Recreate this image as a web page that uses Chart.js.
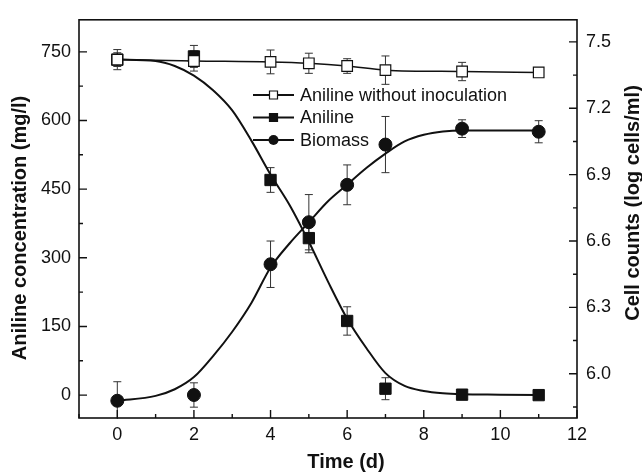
<!DOCTYPE html>
<html>
<head>
<meta charset="utf-8">
<script src="https://cdn.jsdelivr.net/npm/chart.js@4"></script>
<style>
  html, body { margin: 0; padding: 0; background: #fff; }
  #wrap { width: 642px; height: 473px; }
</style>
</head>
<body>
<div id="wrap"><canvas id="chart" width="642" height="473"></canvas></div>
<script>
// sampling days and measured values
const DAYS = [0, 2, 4, 5, 6, 7, 9, 11];
const CONTROL = [733, 730, 728, 725, 719, 710, 707, 705];
const CONTROL_ERR = [22, 22, 26, 22, 16, 31, 20, 4];
const ANILINE = [733, 740, 470, 343, 162, 14, 1, 0];
const ANILINE_ERR = [15, 24, 27, 32, 31, 24, 5, 4];
const BIOMASS = [5.878, 5.904, 6.495, 6.685, 6.854, 7.036, 7.108, 7.094];
const BIOMASS_ERR = [0.086, 0.055, 0.105, 0.125, 0.09, 0.127, 0.04, 0.05];

// fitted curves
const FIT_X = [0, 1, 1.5, 2, 2.5, 3, 3.5, 4, 4.5, 5, 5.5, 6, 6.5, 7, 7.5, 8, 8.5, 9, 10, 11];
const ANILINE_FIT = [733, 730, 719, 698, 666, 622, 556, 482, 415, 335, 248, 167, 103, 48, 20, 9, 4, 2, 1, 0];
const BIOMASS_FIT = [5.878, 5.9, 5.93, 5.985, 6.08, 6.19, 6.32, 6.48, 6.59, 6.685, 6.78, 6.855, 6.93, 6.995, 7.05, 7.08, 7.095, 7.1, 7.1, 7.1];

const X_TICKS = [0, 2, 4, 6, 8, 10, 12];
const LEFT_TICKS = [0, 150, 300, 450, 600, 750];
const RIGHT_TICKS = [6.0, 6.3, 6.6, 6.9, 7.2, 7.5];
const SERIES = ['Aniline without inoculation', 'Aniline', 'Biomass'];

const INK = '#111';
const FONT = '"Liberation Sans", Arial, sans-serif';

function pts(xs, ys) {
    return xs.map((x, i) => ({x: x, y: ys[i]}));
}

function fixTicks(list) {
    return s => { s.ticks = list.map(v => ({value: v})); };
}

function minors(list, min, max) {
    let step = list[1] - list[0];
    let out = [];
    for (let i = 0; i < list.length - 1; i++) out.push((list[i] + list[i + 1]) / 2);
    if (list[0] - step / 2 >= min) out.push(list[0] - step / 2);
    if (list[list.length - 1] + step / 2 <= max) out.push(list[list.length - 1] + step / 2);
    return out;
}

function drawMarker(ctx, kind, x, y, r) {
    ctx.beginPath();
    if (kind === 'circle') {
        ctx.arc(x, y, r, 0, Math.PI * 2);
        ctx.fillStyle = INK;
        ctx.fill();
    } else {
        ctx.rect(x - r, y - r, 2 * r, 2 * r);
        ctx.fillStyle = kind === 'open' ? '#fff' : INK;
        ctx.fill();
        ctx.lineWidth = 1.2;
        ctx.strokeStyle = INK;
        ctx.stroke();
    }
}

const figure = {
    id: 'figure',
    beforeDatasetsDraw(chart) {
        const ctx = chart.ctx;
        const a = chart.chartArea;
        ctx.save();
        ctx.beginPath();
        ctx.rect(a.left, a.top - 1, a.right - a.left, a.bottom - a.top + 2);
        ctx.clip();
        ctx.strokeStyle = '#333';
        ctx.lineWidth = 1;
        chart.data.datasets.forEach((ds, i) => {
            if (!ds.err) return;
            const sy = chart.scales[ds.yAxisID || 'y'];
            const sx = chart.scales.x;
            ds.data.forEach((p, j) => {
                const x = sx.getPixelForValue(p.x);
                const y1 = sy.getPixelForValue(p.y + ds.err[j]);
                const y2 = sy.getPixelForValue(p.y - ds.err[j]);
                ctx.beginPath();
                ctx.moveTo(x, y1); ctx.lineTo(x, y2);
                ctx.moveTo(x - 4, y1); ctx.lineTo(x + 4, y1);
                ctx.moveTo(x - 4, y2); ctx.lineTo(x + 4, y2);
                ctx.stroke();
            });
        });
        ctx.restore();
    },
    afterDraw(chart) {
        const ctx = chart.ctx;
        const a = chart.chartArea;
        const sx = chart.scales.x, sy = chart.scales.y, s2 = chart.scales.y2;
        ctx.save();
        // frame
        ctx.strokeStyle = INK;
        ctx.lineWidth = 1.6;
        ctx.strokeRect(a.left, a.top, a.right - a.left, a.bottom - a.top);
        // inward ticks
        ctx.lineWidth = 1.4;
        ctx.beginPath();
        X_TICKS.forEach(v => { const x = sx.getPixelForValue(v); ctx.moveTo(x, a.bottom); ctx.lineTo(x, a.bottom - 8); });
        minors(X_TICKS, sx.min, sx.max).forEach(v => { const x = sx.getPixelForValue(v); ctx.moveTo(x, a.bottom); ctx.lineTo(x, a.bottom - 4); });
        LEFT_TICKS.forEach(v => { const y = sy.getPixelForValue(v); ctx.moveTo(a.left, y); ctx.lineTo(a.left + 8, y); });
        minors(LEFT_TICKS, sy.min, sy.max).forEach(v => { const y = sy.getPixelForValue(v); ctx.moveTo(a.left, y); ctx.lineTo(a.left + 4, y); });
        RIGHT_TICKS.forEach(v => { const y = s2.getPixelForValue(v); ctx.moveTo(a.right, y); ctx.lineTo(a.right - 8, y); });
        minors(RIGHT_TICKS, s2.min, s2.max).forEach(v => { const y = s2.getPixelForValue(v); ctx.moveTo(a.right, y); ctx.lineTo(a.right - 4, y); });
        ctx.stroke();

        // legend inside the plot
        const kinds = ['open', 'filled', 'circle'];
        ctx.font = '18px ' + FONT;
        ctx.textBaseline = 'middle';
        ctx.textAlign = 'left';
        SERIES.forEach((name, i) => {
            const y = 95 + i * 22.5;
            ctx.strokeStyle = INK;
            ctx.lineWidth = 2;
            ctx.beginPath();
            ctx.moveTo(253, y); ctx.lineTo(294, y);
            ctx.stroke();
            drawMarker(ctx, kinds[i], 273.5, y, kinds[i] === 'circle' ? 5 : 4);
            ctx.fillStyle = INK;
            ctx.fillText(name, 300, y + 1);
        });

        // axis titles
        ctx.font = 'bold 20px ' + FONT;
        ctx.fillStyle = INK;
        ctx.textAlign = 'center';
        ctx.fillText('Time (d)', 346, 462);
        ctx.save();
        ctx.translate(20, 228);
        ctx.rotate(-Math.PI / 2);
        ctx.fillText('Aniline concentration (mg/l)', 0, 0);
        ctx.restore();
        ctx.save();
        ctx.translate(633, 203);
        ctx.rotate(-Math.PI / 2);
        ctx.fillText('Cell counts (log cells/ml)', 0, 0);
        ctx.restore();
        ctx.restore();
    }
};

const tickFont = {family: FONT, size: 18};

new Chart(document.getElementById('chart'), {
    type: 'scatter',
    data: {
        datasets: [
            {
                label: SERIES[0],
                data: pts(DAYS, CONTROL),
                err: CONTROL_ERR,
                showLine: true,
                cubicInterpolationMode: 'monotone',
                borderColor: INK,
                borderWidth: 1.5,
                pointStyle: 'rect',
                pointRadius: 7.5,
                pointBackgroundColor: '#fff',
                pointBorderColor: INK,
                pointBorderWidth: 1.2,
                yAxisID: 'y'
            },
            {
                label: SERIES[1],
                data: pts(DAYS, ANILINE),
                err: ANILINE_ERR,
                showLine: false,
                pointStyle: 'rect',
                pointRadius: 8,
                pointBackgroundColor: INK,
                pointBorderColor: INK,
                yAxisID: 'y'
            },
            {
                label: SERIES[2],
                data: pts(DAYS, BIOMASS),
                err: BIOMASS_ERR,
                showLine: false,
                pointStyle: 'circle',
                pointRadius: 6.5,
                pointBackgroundColor: INK,
                pointBorderColor: INK,
                yAxisID: 'y2'
            },
            {
                label: 'aniline fit',
                data: pts(FIT_X, ANILINE_FIT),
                showLine: true,
                cubicInterpolationMode: 'monotone',
                borderColor: INK,
                borderWidth: 2,
                pointRadius: 0,
                yAxisID: 'y'
            },
            {
                label: 'biomass fit',
                data: pts(FIT_X, BIOMASS_FIT),
                showLine: true,
                cubicInterpolationMode: 'monotone',
                borderColor: INK,
                borderWidth: 2,
                pointRadius: 0,
                yAxisID: 'y2'
            }
        ]
    },
    options: {
        responsive: false,
        animation: false,
        devicePixelRatio: 1,
        layout: {padding: {top: 14, left: 0, right: 0, bottom: 0}},
        plugins: {legend: {display: false}, tooltip: {enabled: false}},
        scales: {
            x: {
                type: 'linear', min: -1, max: 12,
                afterBuildTicks: fixTicks(X_TICKS),
                afterFit: s => { s.height = 55; },
                grid: {display: false, drawTicks: false},
                border: {display: false},
                ticks: {color: INK, font: tickFont, padding: 6}
            },
            y: {
                position: 'left', min: -50, max: 820,
                afterBuildTicks: fixTicks(LEFT_TICKS),
                afterFit: s => { s.width = 79; },
                grid: {display: false, drawTicks: false},
                border: {display: false},
                ticks: {color: INK, font: tickFont, padding: 8}
            },
            y2: {
                position: 'right', min: 5.8, max: 7.6,
                afterBuildTicks: fixTicks(RIGHT_TICKS),
                afterFit: s => { s.width = 65; },
                grid: {display: false, drawTicks: false},
                border: {display: false},
                ticks: {color: INK, font: tickFont, padding: 9, callback: v => v.toFixed(1)}
            }
        }
    },
    plugins: [figure]
});
</script>
</body>
</html>
